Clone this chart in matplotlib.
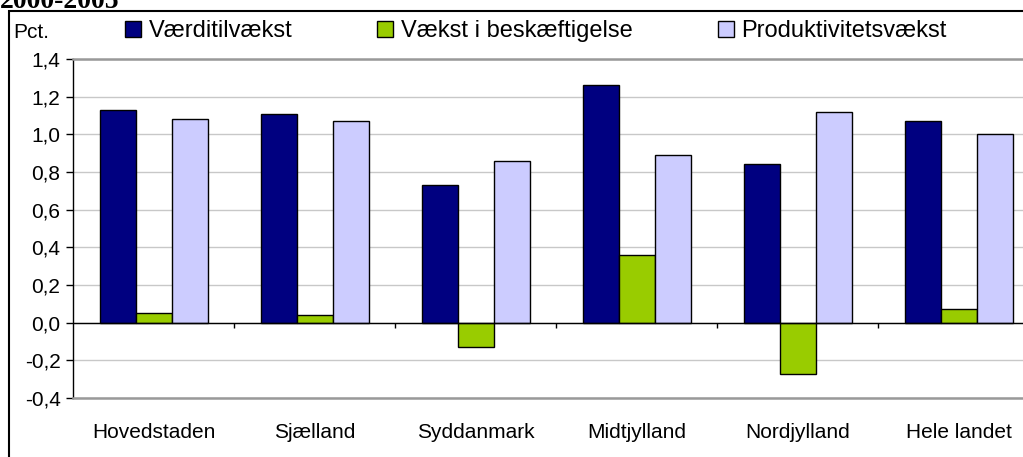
import numpy as np
import matplotlib
matplotlib.use("Agg")
from matplotlib import pyplot as plt
from matplotlib.patches import Rectangle
from matplotlib.ticker import FuncFormatter

regions = ["Hovedstaden", "Sjælland", "Syddanmark", "Midtjylland", "Nordjylland", "Hele landet"]
vaerditilvaekst = [1.13, 1.11, 0.73, 1.26, 0.84, 1.07]
beskaeftigelse = [0.05, 0.04, -0.13, 0.36, -0.27, 0.07]
produktivitet = [1.08, 1.07, 0.86, 0.89, 1.12, 1.00]
series_names = ["Værditilvækst", "Vækst i beskæftigelse", "Produktivitetsvækst"]
colors = ["#000080", "#99CC00", "#CCCCFF"]

plt.rcParams['font.family'] = ['Liberation Sans', 'DejaVu Sans']

W, H = 1023, 457
fig = plt.figure(figsize=(W / 100, H / 100), dpi=100)
ax = fig.add_axes([73 / W, 1 - 398 / H, 966 / W, 339 / H])

x = np.arange(len(regions)) + 0.5
w = 36 / 161
bars = []
for k, vals in enumerate([vaerditilvaekst, beskaeftigelse, produktivitet]):
    b = ax.bar(x + (k - 1) * w, vals, w, color=colors[k], edgecolor="black",
               linewidth=1.0, label=series_names[k], zorder=3)
    bars.append(b)

ax.set_xlim(0, len(regions))
ax.set_ylim(-0.4, 1.4)
ax.set_yticks(np.arange(-0.4, 1.41, 0.2))
ax.yaxis.set_major_formatter(FuncFormatter(lambda v, p: f"{v:.1f}".replace(".", ",").replace("-0,0", "0,0")))
ax.grid(axis="y", color="#c8c8c8", linewidth=1.0, zorder=0)
ax.tick_params(axis="y", direction="out", length=5, width=1, color="black",
               labelsize=15, pad=4)

ax.set_xticks(x)
ax.set_xticklabels(regions)
ax.tick_params(axis="x", length=0, labelsize=15, pad=18)

# zero line with category separator ticks
ax.axhline(0, color="black", linewidth=1.0, zorder=4)
ax.vlines(np.arange(1, len(regions)), -0.03, 0, color="black", linewidth=1.0, zorder=4)

for s in ["top", "bottom"]:
    ax.spines[s].set_color("#999999")
    ax.spines[s].set_linewidth(1.8)
ax.spines["right"].set_visible(False)
ax.spines["left"].set_color("black")
ax.spines["left"].set_linewidth(1.0)

fig.text(13 / W, 1 - 33 / H, "Pct.", fontsize=15, va="center", ha="left")

fig.legend(handles=bars, labels=series_names, loc="center left",
           bbox_to_anchor=(125 / W, 1 - 31 / H), ncol=3, frameon=False,
           fontsize=17, handlelength=0.67, handleheight=0.67,
           handletextpad=0.33, columnspacing=3.6, borderpad=0, borderaxespad=0)

fig.text(0, 1 - 8 / H, "2000-2005", fontsize=20, fontweight="bold",
         family="Liberation Serif", va="baseline", ha="left")

fig.patches.append(Rectangle((9 / W, -0.5), 2, 1.5 - 11 / H, transform=fig.transFigure,
                             fill=False, edgecolor="black", linewidth=1.5, clip_on=False))

fig.savefig("out.png", dpi=100)
